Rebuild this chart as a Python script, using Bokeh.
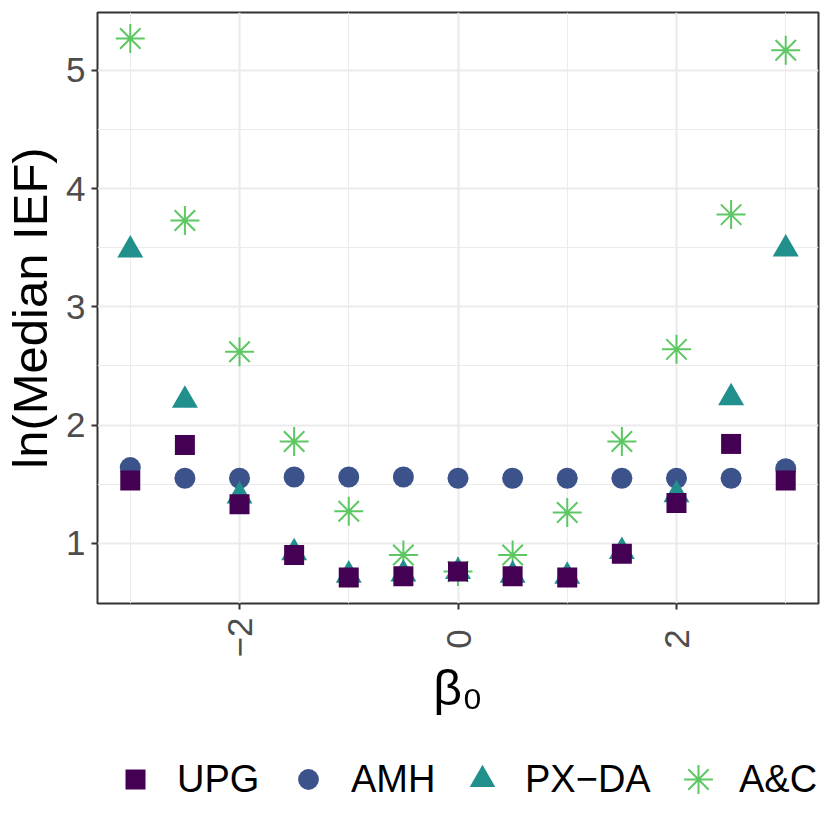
import math
from bokeh.plotting import figure
from bokeh.layouts import column
from bokeh.models import Range1d, FixedTicker, Legend, LegendItem
from bokeh.embed import file_html
from bokeh.resources import INLINE

# ---- data ----
beta0 = [-3, -2.5, -2, -1.5, -1, -0.5, 0, 0.5, 1, 1.5, 2, 2.5, 3]
upg  = [1.53, 1.83, 1.33, 0.90, 0.71, 0.72, 0.76, 0.72, 0.71, 0.91, 1.34, 1.84, 1.53]
amh  = [1.64, 1.55, 1.55, 1.56, 1.56, 1.56, 1.55, 1.55, 1.55, 1.55, 1.55, 1.55, 1.63]
pxda = [3.48, 2.21, 1.40, 0.92, 0.73, 0.74, 0.76, 0.73, 0.72, 0.93, 1.41, 2.23, 3.49]
ac   = [5.27, 3.73, 2.62, 1.86, 1.27, 0.90, 0.76, 0.90, 1.26, 1.86, 2.64, 3.78, 5.17]

series_names = ["UPG", "AMH", "PX\u2212DA", "A&C"]
x_ticks = [-2, 0, 2]
# a three-per-em space keeps the short rotated labels centred on their tick, as in the reference
x_tick_labels = ["\u22122", "0\u2004", "2\u2004"]
y_ticks = [1, 2, 3, 4, 5]
y_tick_labels = ["1", "2", "3", "4", "5"]
x_title = "\u03b2\u2080"
y_title = "ln(Median IEF)"

colors = ["#440154", "#3B528B", "#21908C", "#5DC863"]
markers = ["square", "circle", "triangle", "asterisk"]
marker_sizes = [20, 21, 26, 29]
FONT = "Liberation Sans"

W = 830
H_MAIN = 745
H_LEG = 85

p = figure(width=W, height=H_MAIN, output_backend="svg", toolbar_location=None,
           x_range=Range1d(-3.3, 3.3), y_range=Range1d(0.49, 5.49),
           min_border_left=97, min_border_right=12, min_border_top=12,
           min_border_bottom=H_MAIN - 603)
p.background_fill_color = "white"
p.border_fill_color = "white"
p.outline_line_color = "#333333"
p.outline_line_width = 2

# axes / ticks
p.xaxis.ticker = FixedTicker(ticks=x_ticks, minor_ticks=[-3, -1, 1, 3])
p.yaxis.ticker = FixedTicker(ticks=y_ticks, minor_ticks=[1.5, 2.5, 3.5, 4.5])
for ax in (p.xaxis[0], p.yaxis[0]):
    ax.axis_line_color = None
    ax.major_tick_line_color = "#333333"
    ax.major_tick_line_width = 2
    ax.major_tick_out = 6
    ax.major_tick_in = 0
    ax.minor_tick_line_color = None
    ax.major_label_text_font = FONT
    ax.major_label_text_font_size = "35px"
    ax.major_label_text_color = "#4D4D4D"
    ax.axis_label_text_font = FONT
    ax.axis_label_text_font_style = "normal"
    ax.axis_label_text_color = "black"

p.xaxis.major_label_overrides = {t: s for t, s in zip(x_ticks, x_tick_labels)}
p.xaxis.major_label_orientation = math.pi / 2
p.xaxis.major_label_standoff = 8
p.xaxis.axis_label = x_title
p.xaxis.axis_label_text_font_size = "50px"
p.xaxis.axis_label_standoff = 0

p.yaxis.major_label_overrides = {t: s for t, s in zip(y_ticks, y_tick_labels)}
p.yaxis.major_label_standoff = 6
p.yaxis.axis_label = y_title
p.yaxis.axis_label_text_font_size = "49px"
p.yaxis.axis_label_standoff = 6

# grid
for g in (p.xgrid[0], p.ygrid[0]):
    g.grid_line_color = "#EBEBEB"
    g.grid_line_width = 2.2
    g.minor_grid_line_color = "#EBEBEB"
    g.minor_grid_line_width = 1.1

# points (drawing order as in the reference: UPG on top)
def add_points(fig, xs, ys, i):
    if markers[i] == "asterisk":
        return fig.scatter(xs, ys, marker=markers[i], size=marker_sizes[i],
                           line_color=colors[i], line_width=2)
    return fig.scatter(xs, ys, marker=markers[i], size=marker_sizes[i],
                       fill_color=colors[i], line_color=None)

add_points(p, beta0, amh, 1)
add_points(p, beta0, ac, 3)
add_points(p, beta0, pxda, 2)
add_points(p, beta0, upg, 0)

# ---- legend strip below the plot (one key per box so each keeps its marker size) ----
leg = figure(width=W, height=H_LEG, output_backend="svg", toolbar_location=None,
             x_range=Range1d(0, 1), y_range=Range1d(0, 1),
             min_border_left=0, min_border_right=0, min_border_top=0, min_border_bottom=0,
             x_axis_location=None, y_axis_location=None)
leg.outline_line_color = None
leg.xgrid.visible = False
leg.ygrid.visible = False
leg.background_fill_color = "white"
leg.border_fill_color = "white"

# the strip's frame is aligned with the plot frame above (starts 97 px from the page edge)
key_centres = [38, 211, 385, 601]       # px from the frame's left edge
key_boxes = [50, 52, 64, 72]            # legend glyph box -> marker = 0.4 * box
key_standoffs = [17, 17, 11, 5]
centre_y = 51                           # px from the strip's bottom edge
nan = float("nan")
for i in range(4):
    r = add_points(leg, [nan], [nan], i)   # legend-key renderer only, nothing is plotted
    g = key_boxes[i]
    lg = Legend(items=[LegendItem(label=series_names[i], renderers=[r])],
                location=(key_centres[i] - g / 2, centre_y - g / 2),
                orientation="horizontal", glyph_width=g, glyph_height=g,
                label_standoff=key_standoffs[i], padding=0, margin=0, spacing=0,
                label_text_font=FONT, label_text_font_size="38px", label_text_color="black",
                background_fill_alpha=0, border_line_color=None)
    leg.add_layout(lg)

open("out.html", "w").write(file_html(column(p, leg, spacing=0), INLINE))
